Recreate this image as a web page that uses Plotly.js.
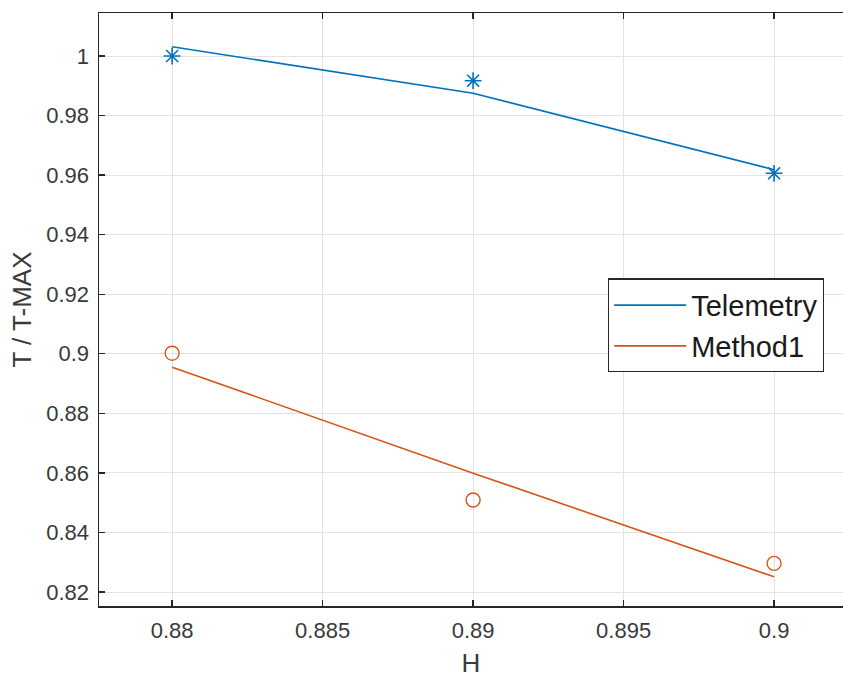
<!DOCTYPE html>
<html>
<head>
<meta charset="utf-8">
<script src="https://cdn.plot.ly/plotly-3.0.1.min.js"></script>
<style>html,body{margin:0;padding:0;background:#fff;}#chart{width:843px;height:678px;}</style>
</head>
<body>
<div id="chart"></div>
<script>
// Data
const hValues = [0.88, 0.89, 0.9];
const telemetryPoints = [1.0, 0.9917, 0.9606];
const telemetryLine = [1.0031, 0.9875, 0.9618];
const method1Points = [0.9002, 0.8509, 0.8296];
const method1Line = [0.8955, 0.8599, 0.8251];
const xTicks = [0.88, 0.885, 0.89, 0.895, 0.9];
const xTickText = ['0.88', '0.885', '0.89', '0.895', '0.9'];
const yTicks = [0.82, 0.84, 0.86, 0.88, 0.9, 0.92, 0.94, 0.96, 0.98, 1];
const yTickText = ['0.82', '0.84', '0.86', '0.88', '0.9', '0.92', '0.94', '0.96', '0.98', '1'];

const blue = '#0072BD';
const orange = '#D95319';
const axisCol = '#262626';
const font = 'Liberation Sans, Arial, Helvetica, sans-serif';

const traces = [
  {x: hValues, y: telemetryLine, mode: 'lines', name: 'Telemetry',
   line: {color: blue, width: 1.6}},
  {x: hValues, y: method1Line, mode: 'lines', name: 'Method1',
   line: {color: orange, width: 1.6}},
  {x: hValues, y: telemetryPoints, mode: 'markers', showlegend: false,
   marker: {symbol: 'asterisk-open', size: 14, color: blue, line: {color: blue, width: 1.6}}},
  {x: hValues, y: method1Points, mode: 'markers', showlegend: false,
   marker: {symbol: 'circle-open', size: 14, color: orange, line: {color: orange, width: 1.4}}}
];

const layout = {
  width: 843, height: 678,
  margin: {l: 99, r: 0, t: 13, b: 72, pad: 0},
  paper_bgcolor: '#fff', plot_bgcolor: '#fff',
  font: {family: font, color: axisCol},
  showlegend: true,
  xaxis: {
    range: [0.87757, 0.90229],
    tickvals: xTicks, ticktext: xTickText,
    ticks: 'inside', ticklen: 6, tickwidth: 1.3, tickcolor: axisCol,
    showline: true, linecolor: axisCol, linewidth: 1.5, mirror: 'ticks',
    showgrid: true, gridcolor: '#e3e3e3', gridwidth: 1,
    zeroline: false,
    tickfont: {family: font, size: 22, color: '#3a3a3a'},
    ticklabelstandoff: 4,
    title: {text: 'H', font: {family: font, size: 26, color: '#3a3a3a'}, standoff: 17}
  },
  yaxis: {
    range: [0.8153, 1.01444],
    tickvals: yTicks, ticktext: yTickText,
    ticks: 'inside', ticklen: 6, tickwidth: 1.3, tickcolor: axisCol,
    showline: true, linecolor: axisCol, linewidth: 1.5, mirror: false,
    showgrid: true, gridcolor: '#e3e3e3', gridwidth: 1,
    zeroline: false,
    tickfont: {family: font, size: 22, color: '#3a3a3a'},
    ticklabelstandoff: 4,
    title: {text: 'T / T-MAX', font: {family: font, size: 26, color: '#3a3a3a'}, standoff: 7}
  },
  legend: {
    x: 0.684, y: 0.5523, xanchor: 'left', yanchor: 'top',
    bgcolor: '#fff', bordercolor: axisCol, borderwidth: 1.3,
    font: {family: font, size: 29, color: '#1a1a1a'},
    tracegroupgap: 0, itemwidth: 72
  }
};

Plotly.newPlot('chart', traces, layout, {displayModeBar: false, staticPlot: true});
</script>
</body>
</html>
